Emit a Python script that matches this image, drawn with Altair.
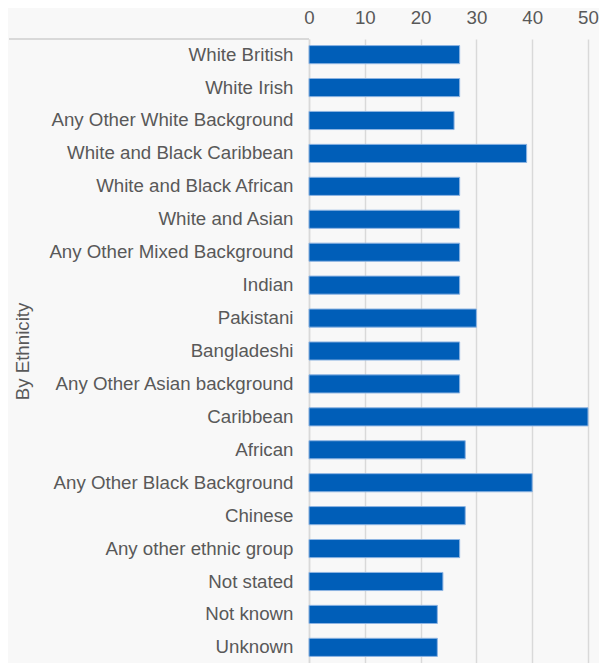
import altair as alt
import pandas as pd

categories = [
    "White British", "White Irish", "Any Other White Background",
    "White and Black Caribbean", "White and Black African", "White and Asian",
    "Any Other Mixed Background", "Indian", "Pakistani", "Bangladeshi",
    "Any Other Asian background", "Caribbean", "African",
    "Any Other Black Background", "Chinese", "Any other ethnic group",
    "Not stated", "Not known", "Unknown",
]
values = [27, 27, 26, 39, 27, 27, 27, 27, 30, 27, 27, 50, 28, 40, 28, 27, 24, 23, 23]
x_ticks = [0, 10, 20, 30, 40, 50]

df = pd.DataFrame({"category": categories, "value": values})

FONT = "Liberation Sans"
GREY = "#595959"
H = 624

bars = alt.Chart(df).mark_bar(
    color="#005EB8", stroke="#8db4e2", strokeWidth=1
).encode(
    x=alt.X("value:Q", scale=alt.Scale(domain=[0, 50], nice=False),
            axis=alt.Axis(orient="top", values=x_ticks, title=None, ticks=False,
                          domain=False, labelPadding=12, grid=True,
                          labelFlush=False,
                          gridColor="#d9d9d9", gridWidth=1.5)),
    y=alt.Y("category:N", sort=categories,
            scale=alt.Scale(paddingInner=0.45, paddingOuter=0.2),
            axis=alt.Axis(title="By Ethnicity", ticks=False, domain=True,
                          domainColor="#d9d9d9", domainWidth=1.5,
                          labelPadding=16, titleX=-287, titleY=H / 2,
                          titleAngle=-90, titleAlign="center",
                          titleBaseline="middle",
                          labelLimit=400)),
)

bracket = alt.Chart(df).mark_rule(color="#d9d9d9", strokeWidth=1.5).encode(
    x=alt.value(-300), x2=alt.value(0), y=alt.value(0)
)

chart = alt.layer(bars, bracket).properties(
    width=279, height=H, background="#f8f8f8",
    padding={"left": 0, "top": 0, "right": 0, "bottom": 0},
).configure_view(stroke=None).configure_axis(
    labelFont=FONT, titleFont=FONT, labelFontSize=18.7, titleFontSize=18.7,
    labelColor=GREY, titleColor=GREY, titleFontWeight="normal"
)

chart.save("out.html", embed_options={"renderer": "svg", "actions": False})
